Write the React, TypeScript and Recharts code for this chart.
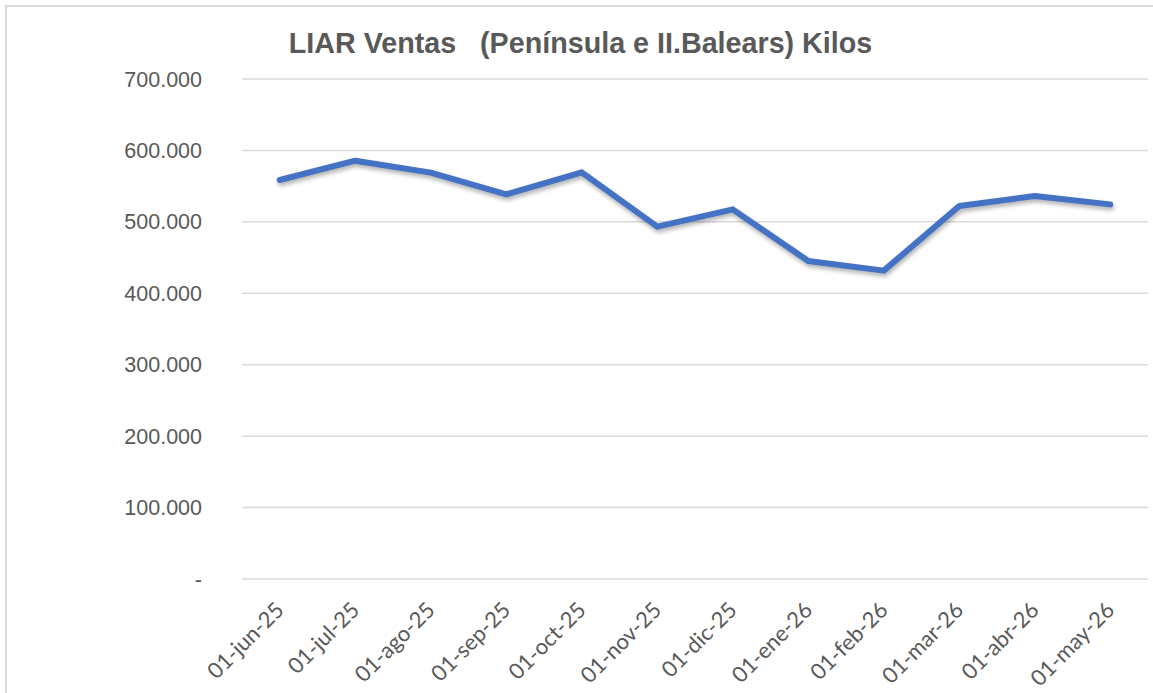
import { LineChart, Line, CartesianGrid, XAxis, YAxis } from "recharts";

const months = [
  "01-jun-25", "01-jul-25", "01-ago-25", "01-sep-25", "01-oct-25", "01-nov-25",
  "01-dic-25", "01-ene-26", "01-feb-26", "01-mar-26", "01-abr-26", "01-may-26",
];
const kilos = [
  558600, 585600, 568900, 538500, 569300, 493300,
  517500, 445200, 431700, 522200, 536200, 524500,
];
const yTicks = [0, 100000, 200000, 300000, 400000, 500000, 600000, 700000];

const data = months.map((m, i) => ({ month: m, kilos: kilos[i] }));

const fmt = (v: number) => {
  if (v === 0) return "-";
  return String(v).replace(/\B(?=(\d{3})+(?!\d))/g, ".");
};

const MonthTick = (props: any) => {
  const { x, payload } = props;
  const ty = 606;
  return (
    <text
      x={x}
      y={ty}
      dy="0.35em"
      textAnchor="end"
      transform={`rotate(-45, ${x}, ${ty})`}
      fill="#595959"
      fontSize={22}
      fontFamily="Lato, sans-serif"
    >
      {payload.value}
    </text>
  );
};

export default function App() {
  return (
    <div style={{ position: "absolute", left: 0, top: 0, width: 1153, height: 693, overflow: "hidden", background: "#fff" }}>
      <div style={{ position: "absolute", left: 5, top: 5, width: 1300, height: 800, border: "2px solid #d9d9d9", boxSizing: "border-box" }} />
      <div style={{ position: "absolute", left: 0, top: 0 }}>
        <LineChart width={1153} height={693} data={data} margin={{ top: 79, right: 5, bottom: 4, left: 0 }}>
          <CartesianGrid vertical={false} stroke="#d9d9d9" strokeWidth={1.5} />
          <XAxis
            dataKey="month"
            scale="band"
            axisLine={false}
            tickLine={false}
            interval={0}
            height={110}
            tick={<MonthTick />}
          />
          <YAxis
            domain={[0, 700000]}
            ticks={yTicks}
            tickFormatter={fmt}
            axisLine={false}
            tickLine={false}
            tickSize={0}
            tickMargin={40}
            width={242}
            tick={{ fill: "#595959", fontSize: 21.5, fontFamily: "'Liberation Sans', Arial, sans-serif" }}
          />
          <Line
            type="linear"
            dataKey="kilos"
            stroke="#4472c4"
            strokeWidth={6}
            strokeLinecap="round"
            strokeLinejoin="round"
            dot={false}
            isAnimationActive={false}
            style={{ filter: "drop-shadow(1px 3px 2px rgba(0,0,0,0.3))" }}
          />
        </LineChart>
      </div>
      <svg width={1153} height={693} style={{ position: "absolute", left: 0, top: 0, pointerEvents: "none" }}>
        <text
          x={580.5}
          y={53}
          textAnchor="middle"
          fill="#595959"
          fontSize={28.7}
          fontWeight="bold"
          fontFamily="'Liberation Sans', Arial, sans-serif"
          style={{ whiteSpace: "pre" }}
        >
          {"LIAR Ventas   (Península e II.Balears) Kilos"}
        </text>
      </svg>
    </div>
  );
}
